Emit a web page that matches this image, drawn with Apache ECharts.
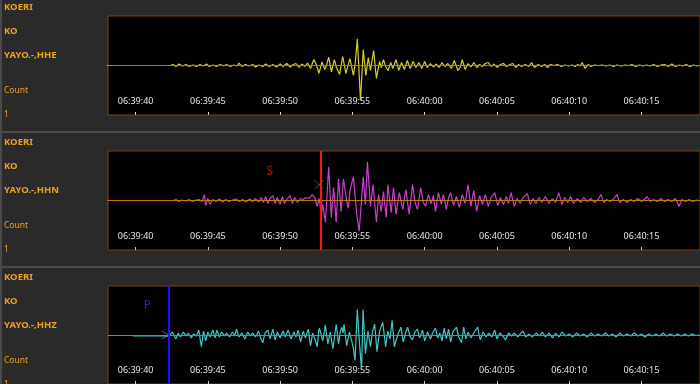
<!DOCTYPE html>
<html>
<head>
<meta charset="utf-8">
<script src="https://cdn.jsdelivr.net/npm/echarts@6/dist/echarts.min.js"></script>
<style>
html,body{margin:0;padding:0;background:#2a2a2a;}
#chart{width:700px;height:384px;}
</style>
</head>
<body>
<div id="chart"></div>
<script>
// ---- data (time in seconds after 06:39:00, amplitude in relative counts) ----
const tickSeconds = [40, 45, 50, 55, 60, 65, 70, 75];
const network = 'KOERI';
const netCode = 'KO';
const channels = ['YAYO.-,HHE', 'YAYO.-,HHN', 'YAYO.-,HHZ'];
const unitLabel = 'Count';
const scaleLabel = '1';

const traceHHE = [
[38.0,0],[42.4,0],[42.6,1],[42.8,-1],[43.0,1.5],[43.25,-0.5],[43.5,1],[43.7,-1],[44.0,0.5],[44.2,-1],[44.45,1],[44.7,-0.5],[44.9,1.5],[45.1,-1],[45.35,0.5],[45.6,-1],[45.85,1],[46.1,-0.5],[46.3,1],[46.55,-1],[46.8,0.5],[47.0,-0.5],[47.15,2.5],[47.35,-1],[47.6,1],[47.85,-0.5],[48.1,1],[48.3,-1.5],[48.55,0.5],[48.8,-1],[49.0,1.5],[49.25,-1],[49.5,1],[49.75,-1.5],[50.0,1.5],[50.2,-1],[50.45,2],[50.7,-1.5],[50.9,1],[51.1,2],[51.3,-2],[51.5,1.5],[51.7,-1],[51.9,2.5],
[52.1,-3],[52.33,6],[52.5,1],[52.68,-8],[52.9,3.5],[53.1,-4],[53.2,0],[53.36,8.5],[53.55,-6.5],[53.75,6],[53.9,-2],[54.11,-9],[54.33,9],[54.55,-8],[54.83,7],[55.07,-10],[55.2,3],[55.34,27],[55.56,-35],[55.75,16],[55.93,-10],[56.1,8],[56.25,-5],[56.47,15],[56.66,-13],[56.88,4],[57.0,-2],[57.15,6],[57.3,-1],[57.47,-5],[57.65,3],[57.8,-3],[58.02,6],[58.2,-5],[58.4,3],[58.6,-4],[58.8,5],[59.0,-3],[59.2,4],[59.4,-2],[59.6,3],[59.8,-3],[60.0,4],[60.18,-2],[60.4,2],[60.6,-1.5],[60.8,1.5],[61.0,-2],[61.2,3],[61.4,-1],[61.6,2],[61.85,-3],[62.05,5],[62.3,-5],[62.45,-2],[62.6,6],[62.8,-4],[63.0,2],[63.2,-1.5],[63.4,3],[63.6,-2],[63.8,1],[64.0,-1],[64.2,2],[64.4,3],[64.6,-1],[64.8,1.5],[65.0,-2],[65.25,1],[65.45,2],[65.65,-1],[65.9,1],[66.1,2],[66.3,-2],[66.5,1],[66.7,-1],[66.95,1],[67.2,-1],[67.4,3],[67.6,-2],[67.85,1],[68.1,-1],[68.3,1],[68.5,-2],[68.7,1],[68.95,0],[69.2,1],[69.45,-1],[69.7,0.5],[69.95,-0.5],[70.2,0.5],[70.4,-1],[70.6,1],[70.75,-0.5],[70.9,3],[71.1,-3],[71.3,1],[71.5,-1],[71.75,0.5],[72.0,0],[72.3,0.5],[72.55,-0.5],[72.8,0.5],[73.05,-1],[73.3,0.5],[73.6,-0.5],[73.85,0.5],[74.1,0],[74.35,1],[74.6,-1],[74.85,0.5],[75.1,-0.5],[75.35,0.5],[75.6,-0.5],[75.85,1],[76.1,-1],[76.35,0.5],[76.6,1],[76.85,-1],[77.1,1.5],[77.35,-1],[77.6,0.5],[77.85,-0.5],[78.1,1],[78.35,-1],[78.6,0.5],[78.85,-0.5],[79.0,0]
];

const traceHHN = [
[38.0,0],[42.6,0],[42.8,1],[43.0,-1],[43.2,0.5],[43.45,-0.5],[43.7,1],[43.95,-1],[44.2,0.5],[44.4,1],[44.6,-1],[44.75,6],[44.85,-5],[45.0,2],[45.15,-4],[45.35,1],[45.55,-1],[45.8,1.5],[46.0,-1.5],[46.25,1],[46.45,-1],[46.7,0.5],[46.95,1.5],[47.2,-1],[47.4,1],[47.65,-1.5],[47.9,1.5],[48.1,-1],[48.3,2],[48.5,-1.5],[48.7,3],[48.85,-2],[49.0,4],[49.15,-3],[49.3,2],[49.5,5],[49.65,-3],[49.8,3],[50.0,-4],[50.15,4],[50.3,-3],[50.5,2],[50.7,5],[50.85,-3],[51.0,3],[51.2,-2],[51.4,2],[51.6,1],[51.8,3],[52.0,2],[52.22,6],[52.4,3],[52.56,-6],[52.7,2],[52.85,-14],[52.95,-4],[53.13,-22],[53.36,34],[53.54,-17],[53.7,13],[53.88,-22],[54.04,22],[54.22,-11],[54.38,22],[54.6,0],[54.72,-8],[54.83,10],[55.07,24],[55.3,-14],[55.47,-31],[55.75,24],[55.9,-4],[56.04,39],[56.25,-6],[56.43,16],[56.66,-22],[56.81,6],[56.99,-11],[57.15,9],[57.34,-17],[57.45,16],[57.68,-12],[57.84,13],[58.02,-14],[58.25,8],[58.48,-9],[58.7,11],[58.93,-14],[59.16,16],[59.35,-3],[59.5,-9],[59.73,13],[59.9,-2],[60.07,-6],[60.25,6],[60.45,-3],[60.6,5],[60.75,-11],[60.95,8],[61.15,-4],[61.3,6],[61.5,-9],[61.65,3],[61.8,8],[62.0,-5],[62.2,4],[62.4,-7],[62.6,6],[62.8,-3],[63.0,16],[63.2,-6],[63.4,10],[63.6,-11],[63.8,5],[64.0,-4],[64.2,6],[64.4,-6],[64.6,3],[64.85,8],[65.05,-5],[65.25,3],[65.45,-4],[65.65,4],[65.8,-3],[65.98,8],[66.2,-6],[66.4,2],[66.6,-3],[66.8,3],[67.1,7],[67.3,-4],[67.5,2],[67.7,-3],[67.9,3],[68.1,-2],[68.35,4],[68.6,-3],[68.85,2],[69.05,-2],[69.28,8],[69.5,-4],[69.7,3],[69.9,-2],[70.1,4],[70.3,-3],[70.55,2],[70.8,-2],[71.0,3],[71.25,-1],[71.5,2],[71.75,-2],[72.0,1],[72.2,6],[72.4,-2],[72.6,1],[72.85,-1],[73.1,2],[73.3,6],[73.5,-2],[73.75,1],[74.0,-2],[74.25,1],[74.5,-1],[74.75,2],[75.0,-1],[75.2,1],[75.4,4],[75.6,-1],[75.85,1],[76.1,-1],[76.35,2],[76.6,-1],[76.85,1],[77.1,-1],[77.35,2],[77.6,-6],[77.8,1],[78.05,-1],[78.3,1],[78.55,-1],[78.8,0.5],[79.0,0]
];

const traceHHZ = [
[39.8,-1],[42.3,-1],[42.55,3],[42.78,-4],[42.95,2],[43.1,-2],[43.3,3],[43.5,-1],[43.65,2],[43.85,-3],[44.0,1],[44.2,-1],[44.37,5],[44.55,-12],[44.7,4],[44.85,-6],[45.0,3],[45.15,-2],[45.35,5],[45.5,-3],[45.62,5],[45.8,-2],[45.95,3],[46.15,-1],[46.3,2],[46.5,-2],[46.7,3],[46.85,-1],[46.98,6],[47.15,-2],[47.35,2],[47.56,-4],[47.75,3],[47.95,-1],[48.1,2],[48.3,-2],[48.5,4],[48.65,-3],[48.8,-8],[48.95,2],[49.15,5],[49.3,-4],[49.5,6],[49.65,-5],[49.8,3],[50.0,-3],[50.2,4],[50.35,-2],[50.55,5],[50.75,-4],[50.95,3],[51.1,-2],[51.25,5],[51.42,-7],[51.6,4],[51.75,-3],[51.95,6],[52.1,-11],[52.25,2],[52.4,-4],[52.56,-12],[52.7,7],[52.78,4],[52.95,-6],[53.13,10],[53.3,-9],[53.47,3],[53.65,-14],[53.88,11],[54.04,-9],[54.17,4],[54.27,8],[54.35,2],[54.42,11],[54.6,-11],[54.79,3],[54.95,-6],[55.07,-14],[55.18,-26],[55.34,26],[55.45,0],[55.52,-14],[55.63,-36],[55.74,26],[55.9,-19],[56.08,4],[56.25,-12],[56.38,3],[56.54,11],[56.7,-17],[56.88,4],[57.1,13],[57.3,-12],[57.45,4],[57.6,-4],[57.75,15],[57.9,-12],[58.13,0],[58.36,8],[58.52,-7],[58.68,2],[58.82,8],[59.0,-2],[59.16,-5],[59.32,3],[59.5,6],[59.65,-3],[59.85,5],[60.0,-6],[60.2,3],[60.4,-4],[60.55,2],[60.75,7],[60.9,-3],[61.05,2],[61.2,-6],[61.35,7],[61.5,-4],[61.65,6],[61.8,-7],[61.95,3],[62.2,8],[62.35,-2],[62.55,-8],[62.7,8],[62.85,-4],[63.0,3],[63.2,-3],[63.4,2],[63.66,8],[63.85,-5],[64.05,3],[64.25,-2],[64.45,2],[64.65,-2],[64.85,5],[65.0,-4],[65.2,2],[65.4,-1],[65.6,-5],[65.8,2],[66.0,-1],[66.2,2],[66.45,-2],[66.6,1],[66.8,4],[67.0,-2],[67.2,1],[67.45,-2],[67.7,2],[67.95,-1],[68.15,3],[68.35,-2],[68.6,2],[68.85,-3],[69.05,2],[69.3,-2],[69.5,3],[69.75,-1],[70.0,1],[70.25,-2],[70.5,2],[70.75,-1],[71.0,1],[71.25,-2],[71.5,2],[71.75,-1],[72.0,1],[72.25,-1],[72.5,2],[72.75,-1],[73.0,1],[73.25,-2],[73.5,2],[73.75,-1],[74.0,1],[74.25,-1],[74.5,2],[74.75,-1],[75.0,1],[75.25,-2],[75.5,1],[75.75,-1],[76.0,1],[76.25,-1],[76.5,2],[76.75,-1],[77.0,1],[77.25,-1],[77.5,1],[77.75,-1],[78.0,1],[78.25,-1],[78.5,1],[78.75,-0.5],[79.0,0]
];

// phase picks
const pickNames = ['S', 'P'];
const pickPanels = [1, 2];
const pickTimes = [52.78, 42.32];
const pickLabelPos = [[49.28, 29], [40.82, 30]];
const pickMarkerPos = [[52.7, 16], [42.05, 0]];

// ---- layout / style ----
const X_MIN = 38.09, X_MAX = 79.05;
const traceColors = ['#d4ce2c', '#c840cc', '#40c8c8'];
const pickColors = ['#ff1414', '#1414ff'];
const pickTextColors = ['#e01010', '#2a2ae8'];
const markerPaths = ['path://M0,0L10,10M10,0L0,10', 'path://M0,0L10,5L0,10'];
const traces = [traceHHE, traceHHN, traceHHZ];
const PANEL_STEP = 135;
const ORANGE = '#eba21a';

function fmtTime(v) {
  const m = 39 + Math.floor(v / 60);
  const s = Math.round(v - 60 * Math.floor(v / 60));
  return '06:' + String(m).padStart(2, '0') + ':' + String(s).padStart(2, '0');
}

const chart = echarts.init(document.getElementById('chart'), null, {renderer: 'canvas'});

const grids = [], xAxes = [], yAxes = [], series = [], graphics = [];

for (let k = 0; k < 3; k++) {
  const top = 16 + PANEL_STEP * k;
  grids.push({left: 108, top: top, width: 600, height: 99, show: true,
    backgroundColor: '#000', borderColor: '#7a4512', borderWidth: 1});
  xAxes.push({
    type: 'value', gridIndex: k, min: X_MIN, max: X_MAX, position: 'bottom',
    axisLine: {show: false, onZero: false},
    splitLine: {show: false},
    axisTick: {show: true, inside: true, length: 3, customValues: tickSeconds,
      lineStyle: {color: '#cfcfcf', width: 1}},
    axisLabel: {show: true, inside: true, margin: 9, customValues: tickSeconds,
      color: '#e4e4e4', fontSize: 9, fontFamily: 'Noto Sans', formatter: fmtTime}
  });
  yAxes.push({type: 'value', gridIndex: k, min: -50, max: 50, show: false});

  const markData = [{yAxis: 0, lineStyle: {color: '#c8741a', width: 1, type: 'solid'}}];
  const pi = pickPanels.indexOf(k);
  if (pi >= 0) {
    markData.push({xAxis: pickTimes[pi], lineStyle: {color: pickColors[pi], width: 2, type: 'solid'}});
  }
  series.push({
    type: 'line', xAxisIndex: k, yAxisIndex: k, data: traces[k],
    showSymbol: false, symbol: 'none', animation: false, silent: true,
    lineStyle: {color: traceColors[k], width: 1.2},
    markLine: {silent: true, symbol: 'none', label: {show: false}, animation: false, data: markData}
  });
  if (pi >= 0) {
    series.push({
      type: 'scatter', xAxisIndex: k, yAxisIndex: k, animation: false, silent: true,
      symbolSize: 0,
      data: [pickLabelPos[pi]],
      label: {show: true, position: 'inside', formatter: pickNames[pi],
        color: pickTextColors[pi], fontSize: 12, fontFamily: 'Noto Sans'}
    });
    series.push({
      type: 'scatter', xAxisIndex: k, yAxisIndex: k, animation: false, silent: true,
      symbol: markerPaths[pi], symbolSize: pi === 0 ? [9, 9] : [7, 8],
      itemStyle: {color: 'rgba(0,0,0,0)', borderColor: '#6a6a6a', borderWidth: 1},
      data: [pickMarkerPos[pi]]
    });
  }

  const rows = [[network, 7, true], [netCode, 31, true], [channels[k], 55, true],
                [unitLabel, 91, false], [scaleLabel, 115, false]];
  rows.forEach(r => {
    graphics.push({type: 'text', x: 4, y: r[1] + PANEL_STEP * k, silent: true,
      style: {text: r[0], fill: ORANGE, verticalAlign: 'middle', align: 'left',
        font: (r[2] ? 'bold 9.5px' : '8.5px') + ' "Noto Sans"'}});
  });
  if (k < 2) {
    graphics.push({type: 'rect', x: 0, y: 131 + PANEL_STEP * k, silent: true,
      shape: {width: 700, height: 2}, style: {fill: '#4a4a4a'}});
  }
}
graphics.push({type: 'rect', x: 0, y: 0, silent: true,
  shape: {width: 2, height: 384}, style: {fill: '#4a4a4a'}});

chart.setOption({
  backgroundColor: '#2a2a2a',
  animation: false,
  grid: grids, xAxis: xAxes, yAxis: yAxes, series: series, graphic: graphics
});
</script>
</body>
</html>
